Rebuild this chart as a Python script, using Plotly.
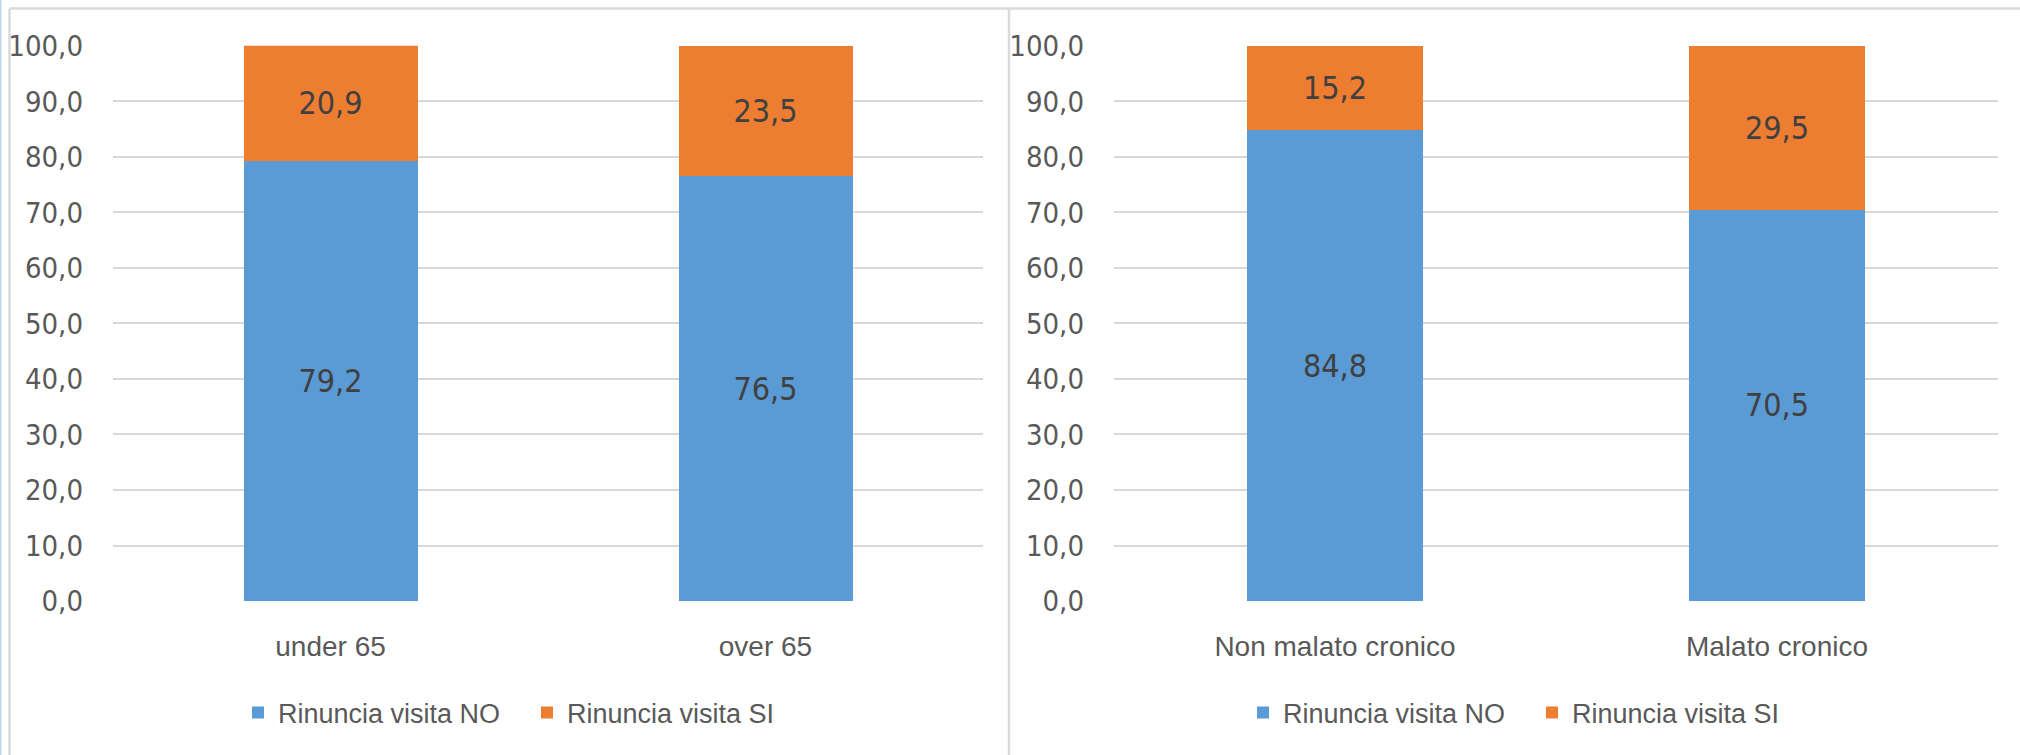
import plotly.graph_objects as go

# ---- data ----
cat_age = ["under 65", "over 65"]
no_age = [79.2, 76.5]
si_age = [20.9, 23.5]

cat_chronic = ["Non malato cronico", "Malato cronico"]
no_chronic = [84.8, 70.5]
si_chronic = [15.2, 29.5]

series_names = ["Rinuncia visita NO", "Rinuncia visita SI"]
y_ticks = [0, 10, 20, 30, 40, 50, 60, 70, 80, 90, 100]

# ---- style ----
W, H = 2020, 755
BLUE = "#5B9BD5"
ORANGE = "#ED7D31"
GRID = "#D9D9D9"
TICK = "#595959"
LABEL = "#404040"
NARROW = "Liberation Sans Narrow, DejaVu Sans Condensed, Arial Narrow, sans-serif"
REG = "Liberation Sans, Arial, sans-serif"

def px(x):
    return x / W

def py(y):
    return 1 - y / H

fig = go.Figure()

panels = [
    (cat_age, no_age, si_age, "x", "y", "legend"),
    (cat_chronic, no_chronic, si_chronic, "x2", "y2", "legend2"),
]
for cats, no_vals, si_vals, xa, ya, lg in panels:
    for name, vals, col in zip(series_names, [no_vals, si_vals], [BLUE, ORANGE]):
        fig.add_trace(go.Bar(
            x=cats, y=vals, name=name, marker=dict(color=col, line=dict(width=0)),
            xaxis=xa, yaxis=ya, legend=lg,
            texttemplate="%{y:.1f}", textposition="inside", insidetextanchor="middle",
            textfont=dict(family=NARROW, size=32, color=LABEL),
            constraintext="none", hoverinfo="skip",
        ))

dom_y = [py(601), py(45.7)]
axis_common_y = dict(
    range=[0, 100.05], tickvals=y_ticks, tickformat=".1f",
    showgrid=True, gridcolor=GRID, gridwidth=2, zeroline=False,
    showline=False, ticks="", ticklabelstandoff=29, automargin=False,
    tickfont=dict(family=NARROW, size=29, color=TICK),
    fixedrange=True,
)
axis_common_x = dict(
    showgrid=False, zeroline=False, showline=False, ticks="",
    ticklabelstandoff=26, automargin=False,
    tickfont=dict(family=REG, size=28, color=TICK),
)

legend_common = dict(orientation="h", xanchor="center", y=py(713), yanchor="middle",
                     font=dict(family=REG, size=27, color=TICK), traceorder="normal",
                     bgcolor="rgba(0,0,0,0)", entrywidth=244, entrywidthmode="pixels")

fig.update_layout(
    template="none",
    width=W, height=H,
    margin=dict(l=0, r=0, t=0, b=0, pad=0),
    paper_bgcolor="white", plot_bgcolor="white",
    barmode="stack", bargap=0.6,
    separators=",.",
    showlegend=True,
    xaxis=dict(domain=[px(113), px(983)], anchor="y", **axis_common_x),
    yaxis=dict(domain=dom_y, anchor="x", **axis_common_y),
    xaxis2=dict(domain=[px(1114), px(1998)], anchor="y2", **axis_common_x),
    yaxis2=dict(domain=dom_y, anchor="x2", **axis_common_y),
    legend=dict(x=px(527), **legend_common),
    legend2=dict(x=px(1532), **legend_common),
    shapes=[
        dict(type="line", xref="paper", yref="paper", x0=px(10), x1=1.01, y0=py(8.5), y1=py(8.5),
             line=dict(color=GRID, width=2.5)),
        dict(type="line", xref="paper", yref="paper", x0=px(9.5), x1=px(9.5), y0=-0.01, y1=py(8.5),
             line=dict(color=GRID, width=2.5)),
        dict(type="line", xref="paper", yref="paper", x0=px(1009), x1=px(1009), y0=-0.01, y1=py(8.5),
             line=dict(color=GRID, width=2.5)),
        dict(type="line", xref="paper", yref="paper", x0=px(0.7), x1=px(0.7), y0=0, y1=1,
             line=dict(color="#BDD7EE", width=1.5)),
    ],
)

fig.write_html(
    "out.html",
    config={"displayModeBar": False},
    post_script="document.body.style.margin='0px';document.body.style.overflow='hidden';",
)
